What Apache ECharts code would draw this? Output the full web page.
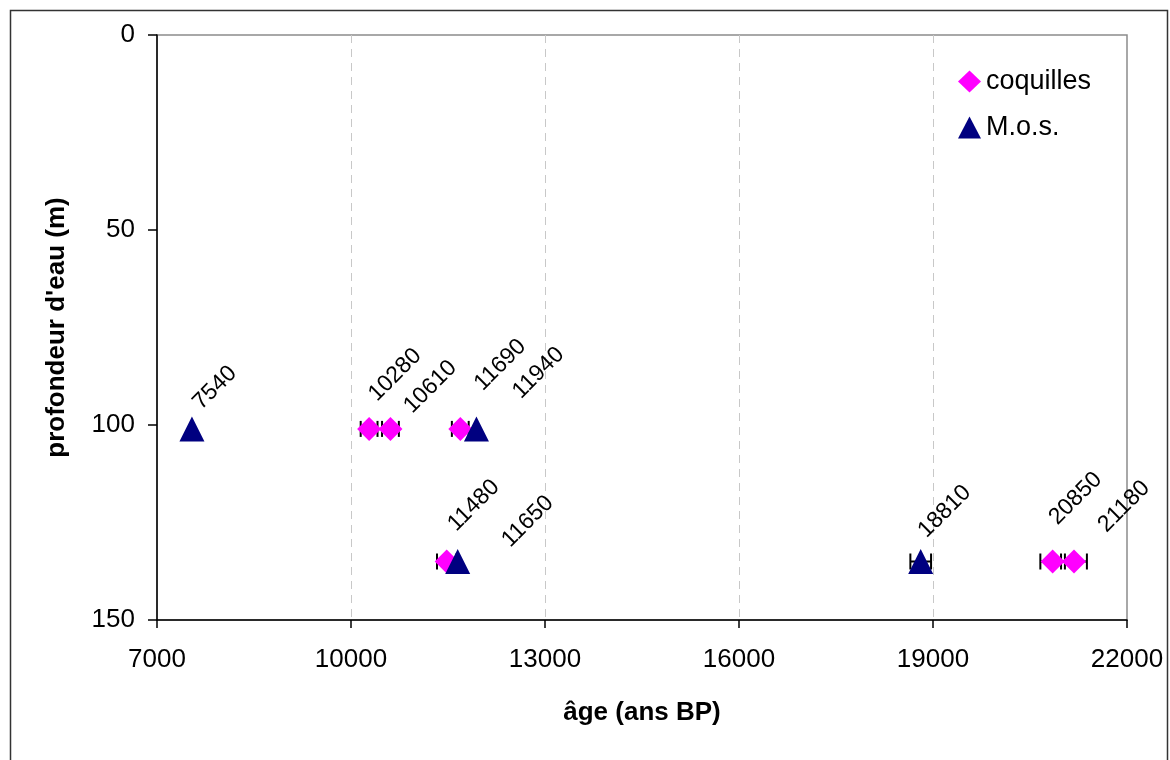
<!DOCTYPE html>
<html>
<head>
<meta charset="utf-8">
<script src="https://cdn.jsdelivr.net/npm/echarts@6/dist/echarts.min.js"></script>
<style>
  html, body { margin: 0; padding: 0; background: #fff; }
  #chart { width: 1170px; height: 760px; }
</style>
</head>
<body>
<div id="chart"></div>
<script>
// coquilles
const coqAge = [10280, 10610, 11690, 11480, 20850, 21180]
const coqDepth = [101, 101, 101, 135, 135, 135]
const coqErr = [130, 130, 130, 150, 190, 200]

// M.o.s.
const mosAge = [7540, 11940, 11650, 18810]
const mosDepth = [101, 101, 135, 135]
const mosErr = [0, 0, 0, 160]

// axes
const xTicks = [7000, 10000, 13000, 16000, 19000, 22000]
const yTicks = [0, 50, 100, 150]

// where each rotated label sits, in px from its point
const coqLabelShift = [[26, -54], [40, -42], [40, -64], [27, -56], [23, -63], [50, -55]]
const mosLabelShift = [[23, -41], [62, -56], [70, -40], [24, -50]]

const FONT = '"Liberation Sans", Arial, sans-serif'

function errorBars(params, api) {
  const err = api.value(2)
  if (!err) return null
  const y = api.value(1)
  const a = api.coord([api.value(0) - err, y])
  const b = api.coord([api.value(0) + err, y])
  const st = { stroke: '#000', lineWidth: 2 }
  return {
    type: 'group',
    children: [
      { type: 'line', shape: { x1: a[0], y1: a[1], x2: b[0], y2: b[1] }, style: st },
      { type: 'line', shape: { x1: a[0], y1: a[1] - 8, x2: a[0], y2: a[1] + 8 }, style: st },
      { type: 'line', shape: { x1: b[0], y1: b[1] - 8, x2: b[0], y2: b[1] + 8 }, style: st }
    ]
  }
}

function labels(shift) {
  return function (params, api) {
    const p = api.coord([api.value(0), api.value(1)])
    const s = shift[params.dataIndex]
    return {
      type: 'text',
      x: p[0] + s[0],
      y: p[1] + s[1],
      rotation: Math.PI / 4,
      style: {
        text: String(api.value(0)),
        fill: '#000',
        fontSize: 23,
        fontFamily: FONT,
        align: 'center',
        verticalAlign: 'middle'
      }
    }
  }
}

const coqData = coqAge.map((a, i) => [a, coqDepth[i], coqErr[i]])
const mosData = mosAge.map((a, i) => [a, mosDepth[i], mosErr[i]])

const chart = echarts.init(document.getElementById('chart'))

const option = {
  animation: false,
  backgroundColor: '#fff',
  textStyle: { fontFamily: FONT },
  grid: {
    left: 157,
    right: 43,
    top: 35,
    bottom: 140,
    show: true,
    borderColor: '#8c8c8c',
    borderWidth: 1.5
  },
  graphic: [
    {
      type: 'rect',
      shape: { x: 10.5, y: 10.5, width: 1157, height: 770 },
      style: { fill: null, stroke: '#333', lineWidth: 1.5 },
      silent: true
    }
  ],
  legend: {
    data: ['coquilles', 'M.o.s.'],
    orient: 'vertical',
    left: 953,
    top: 63,
    itemWidth: 23,
    itemHeight: 22,
    itemGap: 19,
    textStyle: { fontSize: 27, color: '#000', fontFamily: FONT }
  },
  xAxis: {
    type: 'value',
    min: xTicks[0],
    max: xTicks[xTicks.length - 1],
    interval: xTicks[1] - xTicks[0],
    name: 'âge (ans BP)',
    nameLocation: 'middle',
    nameGap: 80,
    nameTextStyle: { fontSize: 26, fontWeight: 'bold', color: '#000' },
    axisLine: { onZero: false, lineStyle: { color: '#000', width: 1.5 } },
    axisTick: { show: true, length: 8, lineStyle: { color: '#000', width: 1.5 } },
    axisLabel: { fontSize: 26, color: '#000', margin: 27, formatter: v => String(v) },
    splitLine: {
      show: true,
      showMinLine: false,
      showMaxLine: false,
      lineStyle: { color: '#c8c8c8', type: [8, 6], width: 1 }
    }
  },
  yAxis: {
    type: 'value',
    inverse: true,
    min: yTicks[0],
    max: yTicks[yTicks.length - 1],
    interval: yTicks[1] - yTicks[0],
    name: "profondeur d'eau (m)",
    nameLocation: 'middle',
    nameGap: 87,
    nameTextStyle: { fontSize: 26, fontWeight: 'bold', color: '#000' },
    axisLine: { onZero: false, lineStyle: { color: '#000', width: 1.5 } },
    axisTick: { show: true, length: 9, lineStyle: { color: '#000', width: 1.5 } },
    axisLabel: { fontSize: 26, color: '#000', margin: 22, formatter: v => String(v) },
    splitLine: { show: false }
  },
  series: [
    {
      type: 'custom',
      name: 'err-coq',
      renderItem: errorBars,
      data: coqData,
      z: 1
    },
    {
      type: 'custom',
      name: 'err-mos',
      renderItem: errorBars,
      data: mosData,
      z: 1
    },
    {
      type: 'scatter',
      name: 'coquilles',
      symbol: 'diamond',
      symbolSize: [24, 24],
      itemStyle: { color: '#ff00ff', opacity: 1 },
      data: coqData,
      z: 3
    },
    {
      type: 'scatter',
      name: 'M.o.s.',
      symbol: 'triangle',
      symbolSize: [25, 25],
      itemStyle: { color: '#000080', opacity: 1 },
      data: mosData,
      z: 4
    },
    {
      type: 'custom',
      name: 'lab-coq',
      renderItem: labels(coqLabelShift),
      data: coqData,
      z: 5
    },
    {
      type: 'custom',
      name: 'lab-mos',
      renderItem: labels(mosLabelShift),
      data: mosData,
      z: 5
    }
  ]
}

chart.setOption(option)
</script>
</body>
</html>
